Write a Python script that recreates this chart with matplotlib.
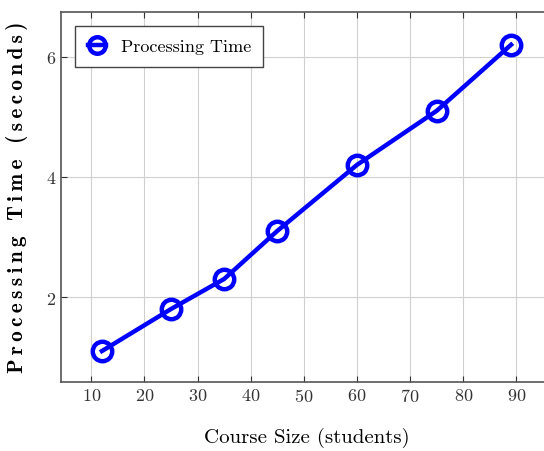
import matplotlib
matplotlib.use("Agg")
import matplotlib.pyplot as plt

# course size (students) vs processing time (s)
course_size = [12, 25, 35, 45, 60, 75, 89]
proc_time = [1.1, 1.8, 2.3, 3.1, 4.2, 5.1, 6.2]
x_ticks = [10, 20, 30, 40, 50, 60, 70, 80, 90]
y_ticks = [2, 4, 6]

plt.rcParams["font.family"] = ["cmr10", "DejaVu Serif"]
plt.rcParams["axes.formatter.use_mathtext"] = True

W, H = 544, 452
fig = plt.figure(figsize=(W / 100, H / 100), dpi=100)
ax = fig.add_axes([61 / W, (H - 382.7) / H, (552 - 61) / W, (382.7 - 12.7) / H])

ax.plot(course_size, proc_time, color="#0000ff", lw=3.2, marker="o",
        ms=14, mfc="none", mec="#0000ff", mew=3.2, label="Processing Time")

ax.set_xlim(4.3, 96.7)
ax.set_ylim(0.59, 6.75)
ax.set_xticks(x_ticks)
ax.set_yticks(y_ticks)
ax.grid(True, color="#d0d0d0", lw=0.8)
ax.tick_params(direction="in", length=4, labelsize=13, colors="#333333",
               top=True, right=True)
for s in ax.spines.values():
    s.set_color("#555555")
    s.set_linewidth(1.2)

ax.set_xlabel("Course Size (students)", fontsize=15, labelpad=17)
# the reference label is letter-spaced; thin spaces mimic that
ylab = "\u2009".join("Processing Time (seconds)")
ax.set_ylabel(ylab, fontsize=15.3, family=["cmb10", "DejaVu Serif"], labelpad=13)

leg = ax.legend(loc="upper left", fontsize=13, fancybox=False,
                edgecolor="#444444", framealpha=1, handlelength=1.0,
                borderaxespad=0.8, borderpad=0.7, markerscale=0.85)
leg.get_frame().set_linewidth(1.0)

fig.savefig("out.png", dpi=100)
